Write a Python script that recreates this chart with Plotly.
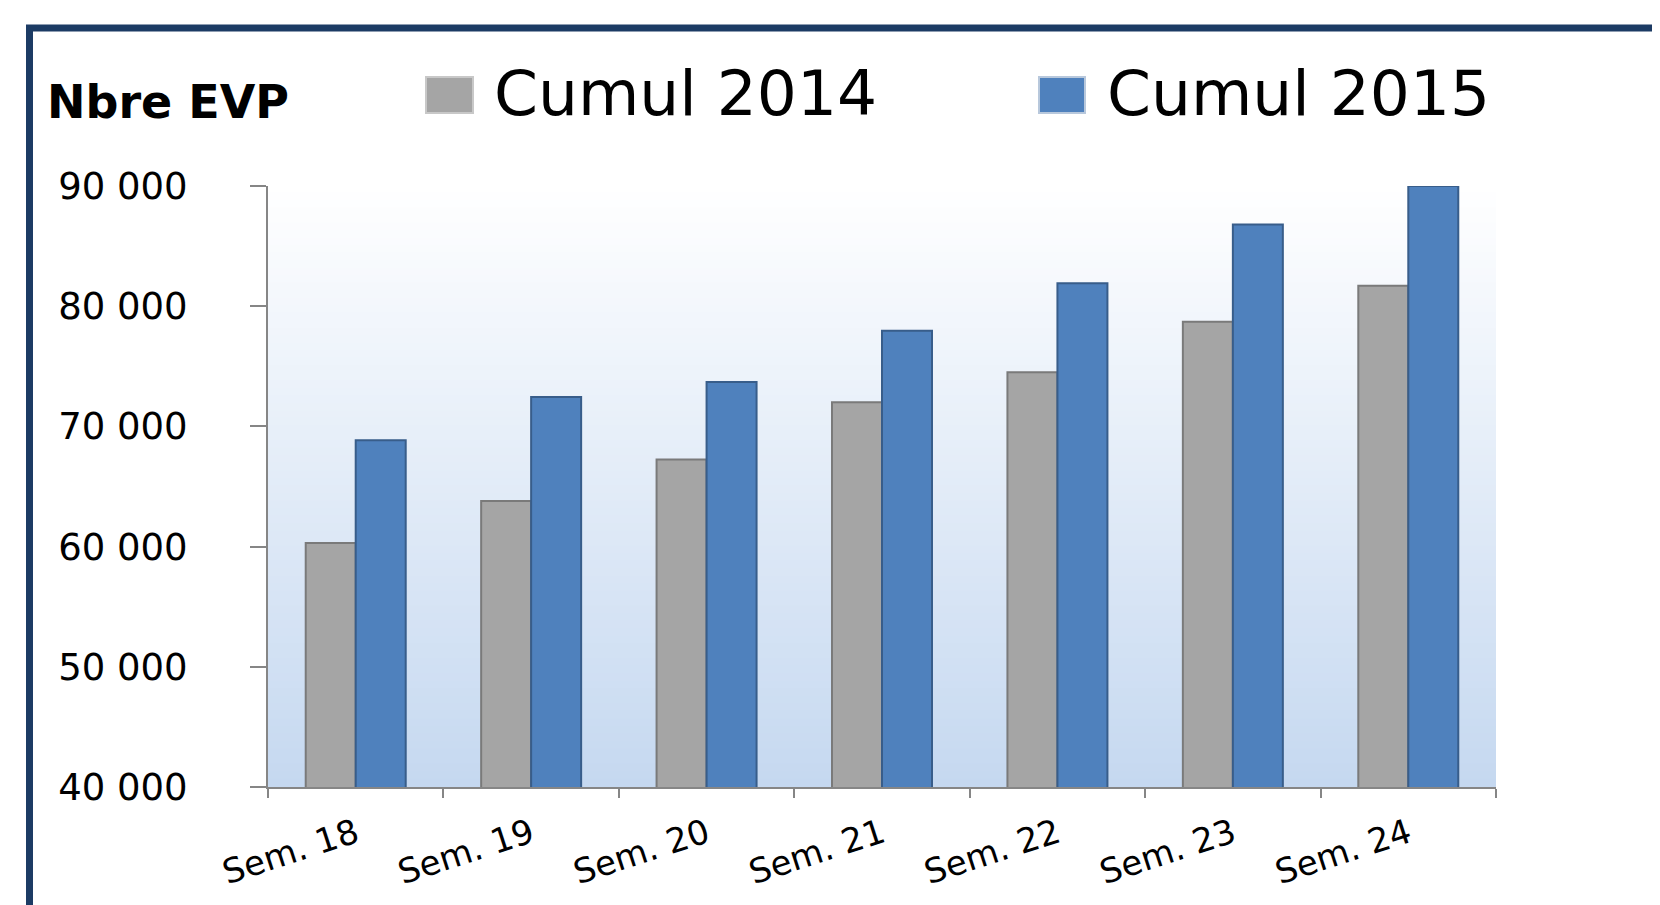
import plotly.graph_objects as go

# ---- data ----
categories = ["Sem. 18", "Sem. 19", "Sem. 20", "Sem. 21", "Sem. 22", "Sem. 23", "Sem. 24"]
series_names = ["Cumul 2014", "Cumul 2015"]
cumul_2014 = [60300, 63800, 67250, 72000, 74500, 78700, 81700]
cumul_2015 = [68850, 72450, 73700, 77950, 81900, 86800, 90000]
y_tick_vals = [40000, 50000, 60000, 70000, 80000, 90000]
y_tick_text = ["40 000", "50 000", "60 000", "70 000", "80 000", "90 000"]
y_title = "Nbre EVP"

# ---- layout geometry (window pixels) ----
W, H = 1660, 905
OFF = 8                               # default page body margin
L, R, T, B = 268, 1496, 186, 787      # plot area edges as seen in the window


def px_x(p):
    return (p - L) / (R - L)


def px_y(p):
    return (B - p) / (B - T)


GRAY = "#A5A5A5"
GRAY_LINE = "#7A7A7A"
BLUE = "#4F81BD"
BLUE_LINE = "#385D8A"
AXIS = "#868686"
FRAME = "#1C3B64"

fig = go.Figure()
fig.add_trace(go.Bar(x=categories, y=cumul_2014, name=series_names[0],
                     marker=dict(color=GRAY, line=dict(color=GRAY_LINE, width=2)),
                     showlegend=False))
fig.add_trace(go.Bar(x=categories, y=cumul_2015, name=series_names[1],
                     marker=dict(color=BLUE, line=dict(color=BLUE_LINE, width=2)),
                     showlegend=False))

shapes = []
# gradient background of plot area
n = 80
top_c = (255, 255, 255)
bot_c = (197, 216, 240)
for i in range(n):
    f = (i + 0.5) / n
    c = tuple(round(top_c[k] + (bot_c[k] - top_c[k]) * f) for k in range(3))
    shapes.append(dict(type="rect", xref="paper", yref="paper",
                       x0=0, x1=1, y0=1 - (i + 1) / n, y1=1 - i / n + 0.002,
                       fillcolor="rgb(%d,%d,%d)" % c, line=dict(width=0), layer="below"))

# outer frame
shapes.append(dict(type="rect", xref="paper", yref="paper",
                   x0=px_x(29.5), x1=px_x(1657.5), y0=px_y(960), y1=px_y(28),
                   line=dict(color=FRAME, width=7), fillcolor="rgba(0,0,0,0)", layer="above"))

# legend swatches
shapes.append(dict(type="rect", xref="paper", yref="paper",
                   x0=px_x(426), x1=px_x(473), y0=px_y(113), y1=px_y(77),
                   fillcolor=GRAY, line=dict(color="#C8C8C8", width=2)))
shapes.append(dict(type="rect", xref="paper", yref="paper",
                   x0=px_x(1039), x1=px_x(1085), y0=px_y(113), y1=px_y(77),
                   fillcolor=BLUE, line=dict(color="#B8C8DC", width=2)))

annotations = [
    dict(text="<b>" + y_title + "</b>", xref="paper", yref="paper",
         x=px_x(44.5), y=px_y(102), xanchor="left", yanchor="middle", showarrow=False,
         font=dict(family="DejaVu Sans", size=46, color="#000000")),
    dict(text=series_names[0], xref="paper", yref="paper",
         x=px_x(492), y=px_y(94), xanchor="left", yanchor="middle", showarrow=False,
         font=dict(family="DejaVu Sans", size=63, color="#000000")),
    dict(text=series_names[1], xref="paper", yref="paper",
         x=px_x(1105), y=px_y(94), xanchor="left", yanchor="middle", showarrow=False,
         font=dict(family="DejaVu Sans", size=63, color="#000000")),
]

fig.update_layout(
    width=W, height=H,
    margin=dict(l=L - OFF, r=W - (R - OFF), t=T - OFF, b=H - (B - OFF), pad=0),
    paper_bgcolor="#FFFFFF",
    plot_bgcolor="#FFFFFF",
    barmode="group",
    bargap=0.43,
    bargroupgap=0,
    shapes=shapes,
    annotations=annotations,
    showlegend=False,
    font=dict(family="DejaVu Sans", color="#000000"),
)

fig.update_xaxes(
    type="category",
    showline=True, linecolor=AXIS, linewidth=2,
    ticks="outside", tickson="boundaries", ticklen=9, tickwidth=2, tickcolor=AXIS,
    tickangle=-18,
    tickfont=dict(family="DejaVu Sans", size=34, color="#000000"),
    ticklabelstandoff=12,
    showgrid=False, zeroline=False,
)
fig.update_yaxes(
    range=[40000, 90000],
    tickmode="array", tickvals=y_tick_vals, ticktext=y_tick_text,
    showline=True, linecolor=AXIS, linewidth=2,
    ticks="outside", ticklen=16, tickwidth=2, tickcolor=AXIS,
    tickfont=dict(family="DejaVu Sans", size=37, color="#000000"),
    ticklabelstandoff=55,
    showgrid=False, zeroline=False,
)

fig.write_html("out.html")
